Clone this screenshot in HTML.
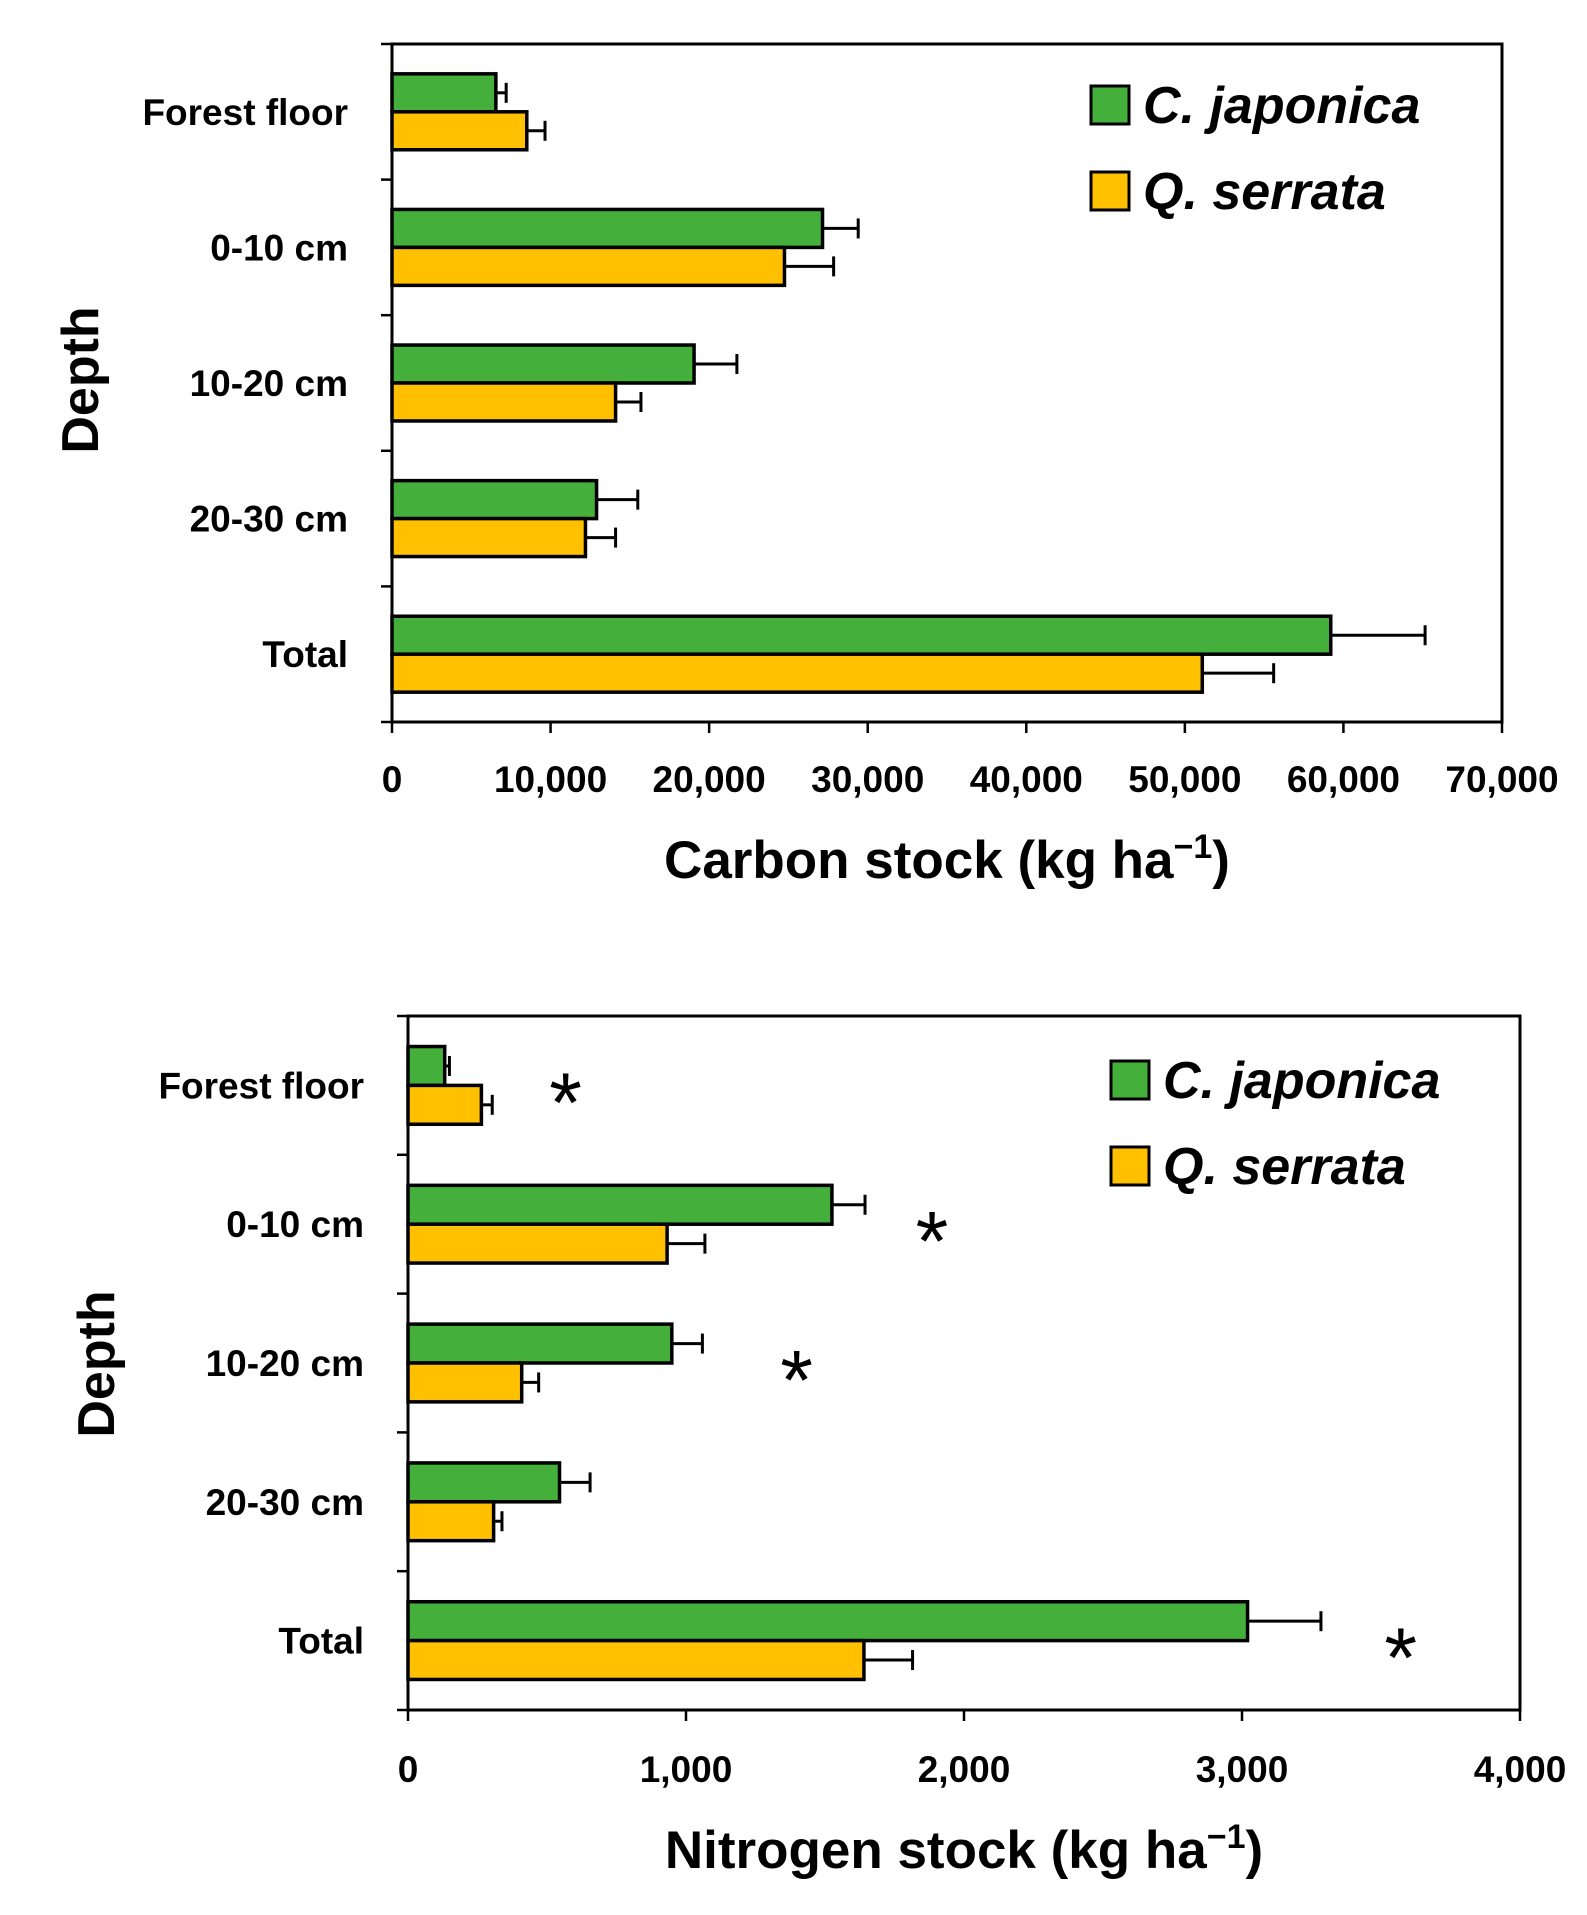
<!DOCTYPE html>
<html><head><meta charset="utf-8"><style>
html,body{margin:0;padding:0;background:#fff;}
svg{display:block;font-family:"Liberation Sans",sans-serif;}
</style></head><body>
<svg id="svg" width="1587" height="1915" viewBox="0 0 1587 1915"></svg>
<script>
const categories = ["Forest floor","0-10 cm","10-20 cm","20-30 cm","Total"];
const carbonJaponica = [6550,27150,19050,12900,59200];
const carbonJaponicaErr = [650,2250,2700,2600,5950];
const carbonSerrata = [8500,24750,14100,12200,51100];
const carbonSerrataErr = [1150,3100,1600,1900,4500];
const carbonTicks = [0,10000,20000,30000,40000,50000,60000,70000];
const carbonTickLabels = ["0","10,000","20,000","30,000","40,000","50,000","60,000","70,000"];
const nitroJaponica = [132,1525,949,545,3020];
const nitroJaponicaErr = [17,119,110,110,264];
const nitroSerrata = [264,932,409,308,1640];
const nitroSerrataErr = [39,136,61,30,175];
const nitroTicks = [0,1000,2000,3000,4000];
const nitroTickLabels = ["0","1,000","2,000","3,000","4,000"];
const nitroStarCats = [0,1,2,4];
const nitroStarX = [567,1885,1398,3571];

const NS="http://www.w3.org/2000/svg";
const svg=document.getElementById('svg');
function mk(tag,attrs,parent){const e=document.createElementNS(NS,tag);for(const k in attrs)e.setAttribute(k,attrs[k]);(parent||svg).appendChild(e);return e;}

function chart(o){
  const g=mk('g',{});
  
  
  const xs=v=>o.L+(v-o.xmin)/(o.xmax-o.xmin)*(o.R-o.L);
  const band=(o.B-o.T)/categories.length;
  const bh=band*0.28;
  const fr=mk('rect',{x:o.L,y:o.T,width:o.R-o.L,height:o.B-o.T,fill:'none',stroke:'#000','stroke-width':3},g);
  
  
  for(let i=0;i<=categories.length;i++){
    const y=o.T+i*band;
    const t=mk('line',{x1:o.L-11,x2:o.L,y1:y,y2:y,stroke:'#000','stroke-width':2.5},g);
    
    
  }
  o.ticks.forEach((v,i)=>{
    const x=xs(v);
    const t=mk('line',{x1:x,x2:x,y1:o.B,y2:o.B+11,stroke:'#000','stroke-width':2.5},g);
    
    
    const tl=mk('text',{x:x,y:o.tickY,'text-anchor':'middle','font-size':37,'font-weight':'bold'},g);
    tl.textContent=o.tickLabels[i];
    
    
  });
  categories.forEach((c,i)=>{
    const cy=o.T+(i+0.5)*band;
    const lab=mk('text',{x:o.catX,y:cy+13,'text-anchor':'end','font-size':37,'font-weight':'bold'},g);
    lab.textContent=c;
    
    
    [[o.s1,o.e1,'#44AF3A',cy-bh,'bar-japonica'],[o.s2,o.e2,'#FFC000',cy,'bar-serrata']].forEach(([s,e,col,y,nm])=>{
      const ey=y+bh/2;
      const el=mk('line',{x1:xs(s[i]),x2:xs(s[i]+e[i]),y1:ey,y2:ey,stroke:'#000','stroke-width':3},g);
      
      
      const ec=mk('line',{x1:xs(s[i]+e[i]),x2:xs(s[i]+e[i]),y1:ey-10,y2:ey+10,stroke:'#000','stroke-width':3},g);
      
      
      const r=mk('rect',{x:xs(0),y:y,width:xs(s[i])-xs(0),height:bh,fill:col,stroke:'#000','stroke-width':3.5},g);
      
      
    });
  });
  if(o.stars){
    o.stars.forEach((ci,k)=>{
      const cy=o.T+(ci+0.5)*band;
      const st=mk('text',{x:xs(o.starX[k]),y:cy+46,'text-anchor':'middle','font-size':84},g);
      st.textContent='*';
      
      
    });
  }
  [['C. japonica','#44AF3A',0,'legend-japonica'],['Q. serrata','#FFC000',1,'legend-serrata']].forEach(([t,col,k,nm])=>{
    const ly=o.legY+k*86;
    const sq=mk('rect',{x:o.legX,y:ly,width:38,height:38,fill:col,stroke:'#000','stroke-width':3},g);
    
    
    const tx=mk('text',{x:o.legX+52,y:ly+37,'font-size':52,'font-style':'italic','font-weight':'bold'},g);
    tx.textContent=t;
    
    
  });
  const xt=mk('text',{x:(o.L+o.R)/2,y:o.titleY,'text-anchor':'middle','font-size':53,'font-weight':'bold'},g);
  xt.innerHTML=o.title+' (kg ha<tspan dy="-20" font-size="34">−1</tspan><tspan dy="20">)</tspan>';
  
  
  const yt=mk('text',{x:0,y:0,'text-anchor':'middle','font-size':52,'font-weight':'bold',transform:`translate(${o.depthX},${o.depthY}) rotate(-90)`},g);
  yt.textContent='Depth';
  
  
}

chart({name:'carbon-chart',L:392,R:1502,T:44,B:722,xmin:0,xmax:70000,ticks:carbonTicks,tickLabels:carbonTickLabels,
  tickY:792,catX:348,s1:carbonJaponica,e1:carbonJaponicaErr,s2:carbonSerrata,e2:carbonSerrataErr,
  legX:1091,legY:86,title:'Carbon stock',titleY:878,depthX:98,depthY:380});
chart({name:'nitrogen-chart',L:408,R:1520,T:1016,B:1710,xmin:0,xmax:4000,ticks:nitroTicks,tickLabels:nitroTickLabels,
  tickY:1782,catX:364,s1:nitroJaponica,e1:nitroJaponicaErr,s2:nitroSerrata,e2:nitroSerrataErr,
  stars:nitroStarCats,starX:nitroStarX,
  legX:1111,legY:1061,title:'Nitrogen stock',titleY:1868,depthX:114,depthY:1364});
</script>
</body></html>
